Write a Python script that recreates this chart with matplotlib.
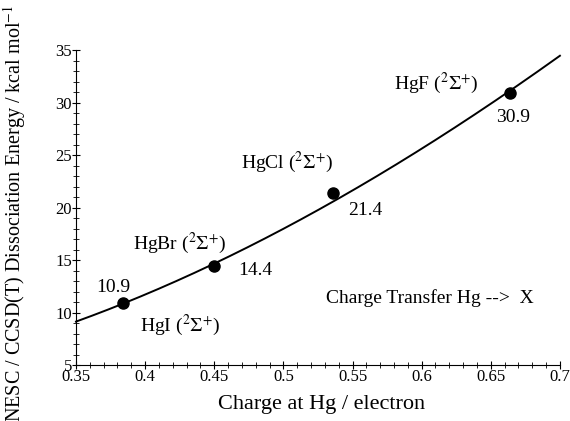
import numpy as np
import matplotlib
matplotlib.use("Agg")
import matplotlib.pyplot as plt
from matplotlib.ticker import MultipleLocator

plt.rcParams['font.family'] = ['Liberation Serif', 'DejaVu Serif']
plt.rcParams['mathtext.fontset'] = 'stix'

# data
molecules = ['HgI', 'HgBr', 'HgCl', 'HgF']
charge = [0.384, 0.450, 0.536, 0.664]
energy = [10.9, 14.4, 21.4, 30.9]

# fitted curve
curve_x = [0.35, 0.375, 0.40, 0.425, 0.45, 0.475, 0.50, 0.525,
           0.55, 0.575, 0.60, 0.625, 0.65, 0.675, 0.70]
curve_y = [9.1, 10.4, 11.75, 13.15, 14.65, 16.25, 17.95, 19.75,
           21.65, 23.6, 25.6, 27.7, 29.9, 32.15, 34.45]

# label positions (data coords)
name_pos = [(0.4252, 8.8), (0.4252, 16.6), (0.5026, 24.3), (0.6103, 31.85)]
value_pos = [(0.3768, 12.4), (0.4794, 14.05), (0.559, 19.75), (0.666, 28.6)]

fig = plt.figure(figsize=(5.70, 4.21), dpi=100)
ax = fig.add_axes([0.1333, 0.133, 0.849, 0.748])

# smooth the sampled curve for drawing
cc = np.polyfit(curve_x, curve_y, 3)
xs = np.linspace(curve_x[0], curve_x[-1], 300)
ax.plot(xs, np.polyval(cc, xs), color='black', lw=1.4, clip_on=False)
ax.plot(charge, energy, 'o', color='black', ms=8)

for m, (nx, ny), (vx, vy), e in zip(molecules, name_pos, value_pos, energy):
    ax.text(nx, ny, m + r' ($^{2}\Sigma^{+}$)', fontsize=14, ha='center', va='center')
    ax.text(vx, vy, f'{e:.1f}', fontsize=14, ha='center', va='center')

ax.text(0.606, 11.38, 'Charge Transfer Hg -->  X', fontsize=14, ha='center', va='center')

ax.set_xlim(0.35, 0.70)
ax.set_ylim(5, 35)
ax.set_xticks(np.arange(0.35, 0.701, 0.05))
ax.set_xticklabels(['0.35', '0.4', '0.45', '0.5', '0.55', '0.6', '0.65', '0.7'])
ax.xaxis.set_minor_locator(MultipleLocator(0.01))
ax.yaxis.set_major_locator(MultipleLocator(5))
ax.yaxis.set_minor_locator(MultipleLocator(1))
ax.tick_params(which='major', direction='inout', length=6, width=0.8, labelsize=12, pad=0)
ax.tick_params(which='minor', direction='inout', length=4, width=0.6)

for s in ['top', 'right']:
    ax.spines[s].set_visible(False)
for s in ['left', 'bottom']:
    ax.spines[s].set_linewidth(0.8)

fig.text(322 / 570, 1 - 405 / 421, 'Charge at Hg / electron', fontsize=16,
         ha='center', va='center')
fig.text(15 / 570, 1 - 213 / 421, 'NESC / CCSD(T) Dissociation Energy / kcal mol$^{-1}$',
         fontsize=14.5, rotation=90, ha='center', va='center')

fig.savefig('out.png', dpi=100)
